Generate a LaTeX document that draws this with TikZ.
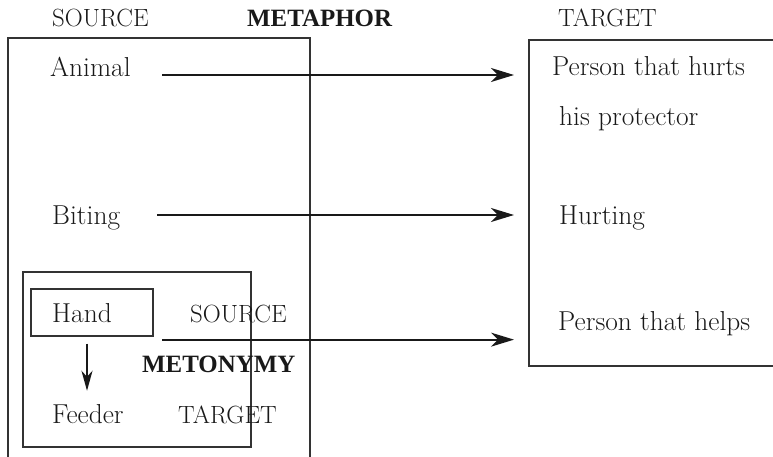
\documentclass[tikz,border=0pt]{standalone}
\usepackage{fontspec}
\newfontfamily\labfont{Liberation Serif}
\usetikzlibrary{arrows.meta}
\tikzset{
  txt/.style={anchor=base west,inner sep=0pt,text=black!90,font=\fontsize{27.5}{32}\selectfont},
  caps/.style={txt,font=\fontsize{25}{30}\selectfont},
  head/.style={txt,font=\fontsize{25}{30}\labfont\bfseries},
  frame/.style={draw=black!80,line width=1.3bp},
  maparrow/.style={draw=black!90,line width=2.2bp,-{Stealth[length=23bp,width=14bp,inset=7bp]},shorten >=15bp},
  downarrow/.style={draw=black!90,line width=2.2bp,-{Stealth[length=20bp,width=11bp,inset=6bp]},shorten <=7bp,shorten >=13bp}
}
\begin{document}
\begin{tikzpicture}[x=1bp,y=-1bp]
\useasboundingbox (0,0) rectangle (773,457);
% headings
\node[caps] (srclab) at (52,27) {SOURCE};
\node[head] (metaphor) at (247,27) {METAPHOR};
\node[caps] (tgtlab) at (558,27) {TARGET};
% frames
\draw[frame] (8,457) -- (8,38) -- (310,38) -- (310,457);
\coordinate (tgtedge) at (529,40);
\draw[frame] (773,40) -- (tgtedge) -- (529,366) -- (773,366);
\draw[frame] (23,272) rectangle (251,447);
\node[frame,minimum width=122bp,minimum height=47bp,inner sep=0pt] (handbox) at (92,312.5) {};
% source and target items
\node[txt] (animal) at (50,77) {Animal};
\node[txt] (hurts) at (552,76) {Person that hurts};
\node[txt] (protector) at (559,126) {his protector};
\node[txt] (biting) at (52,225) {Biting};
\node[txt] (hurting) at (559,225) {Hurting};
\node[txt] (hand) at (52,323) {Hand};
\node[caps] (msource) at (190,323) {SOURCE};
\node[head] (metonymy) at (142,373) {METONYMY};
\node[txt] (feeder) at (52,423) {Feeder};
\node[caps] (mtarget) at (178,423) {TARGET};
\node[txt] (helps) at (558,331) {Person that helps};
% mappings
\coordinate (from) at (162,0);
\draw[maparrow] ([yshift=2bp]animal.base -| from) -- ([yshift=2bp]animal.base -| tgtedge);
\draw[maparrow] ([xshift=-5bp,yshift=10bp]biting.base -| from) -- ([yshift=10bp]biting.base -| tgtedge);
\draw[maparrow] ([yshift=-3bp]handbox.south -| from) -- ([yshift=-3bp]handbox.south -| tgtedge);
\draw[downarrow] ([xshift=-5bp]handbox.south) -- ([xshift=-5bp]handbox.south |- feeder.north);
\end{tikzpicture}
\end{document}
